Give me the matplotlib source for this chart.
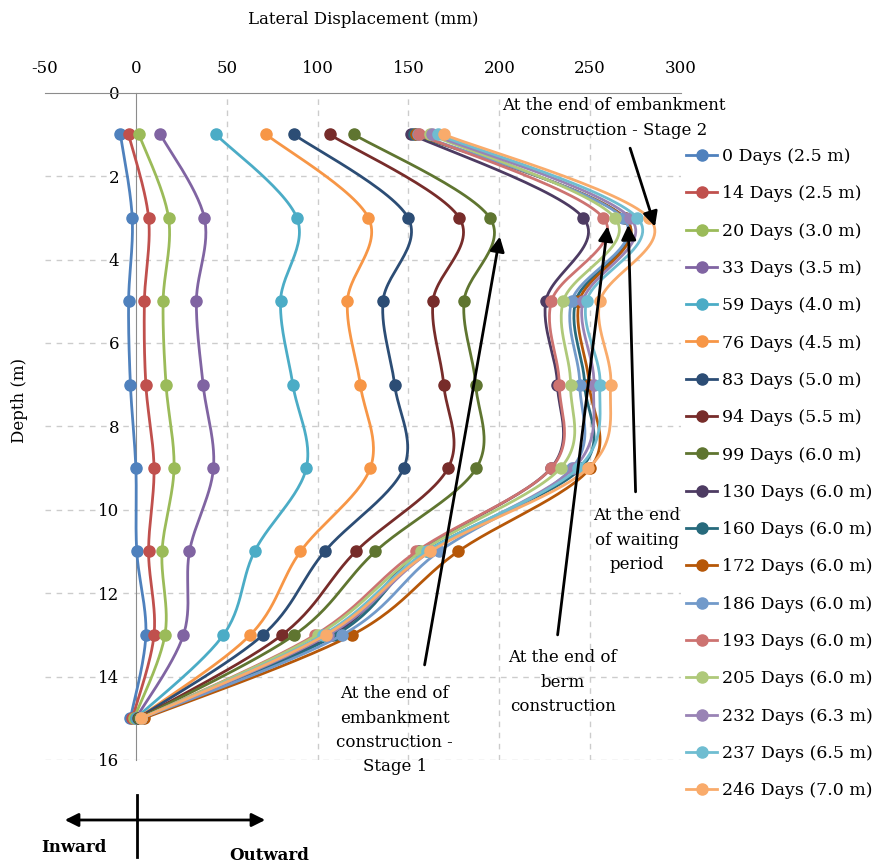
import numpy as np
import matplotlib
matplotlib.use("Agg")
import matplotlib.pyplot as plt
from matplotlib.lines import Line2D

plt.rcParams['font.family'] = ['DejaVu Serif']

depths = [1, 3, 5, 7, 9, 11, 13, 15]

labels = ["0 Days (2.5 m)", "14 Days (2.5 m)", "20 Days (3.0 m)", "33 Days (3.5 m)",
          "59 Days (4.0 m)", "76 Days (4.5 m)", "83 Days (5.0 m)", "94 Days (5.5 m)",
          "99 Days (6.0 m)", "130 Days (6.0 m)", "160 Days (6.0 m)", "172 Days (6.0 m)",
          "186 Days (6.0 m)", "193 Days (6.0 m)", "205 Days (6.0 m)", "232 Days (6.3 m)",
          "237 Days (6.5 m)", "246 Days (7.0 m)"]

d000 = [-8.5, -2.0, -4.0, -3.0, 0.0, 0.5, 5.5, -3.0]
d014 = [-4.0, 7.0, 4.7, 5.5, 10.0, 7.0, 10.0, -2.0]
d020 = [1.7, 18.0, 15.0, 16.6, 21.0, 14.4, 16.0, -1.0]
d033 = [13.5, 37.7, 33.3, 37.0, 42.7, 29.5, 26.2, 0.0]
d059 = [44.0, 88.6, 79.6, 86.4, 93.8, 65.3, 48.2, 0.0]
d076 = [71.7, 128.0, 116.4, 123.5, 129.0, 90.6, 63.0, 1.0]
d083 = [87.0, 149.8, 136.0, 142.4, 147.4, 103.9, 70.0, 1.0]
d094 = [106.6, 178.0, 163.5, 169.4, 171.8, 121.0, 80.5, 2.0]
d099 = [120.0, 194.8, 180.6, 187.0, 187.4, 131.8, 87.3, 2.0]
d130 = [151.6, 246.2, 225.6, 232.0, 228.5, 156.0, 108.0, 3.0]
d160 = [153.0, 269.0, 242.0, 247.0, 245.0, 160.0, 110.0, 3.0]
d172 = [154.0, 269.0, 244.0, 249.5, 250.0, 177.3, 119.0, 4.5]
d186 = [155.0, 268.0, 239.8, 244.3, 240.0, 166.8, 113.6, 3.0]
d193 = [155.8, 257.2, 228.7, 233.0, 228.7, 154.4, 98.7, 3.0]
d205 = [161.7, 263.6, 235.2, 239.2, 233.7, 157.1, 100.0, 3.0]
d232 = [163.0, 272.0, 246.0, 252.0, 241.0, 162.0, 106.0, 3.0]
d237 = [166.0, 276.0, 248.0, 255.4, 243.4, 160.0, 103.0, 3.0]
d246 = [169.4, 282.4, 255.4, 261.3, 249.0, 162.1, 104.4, 3.0]

series = [d000, d014, d020, d033, d059, d076, d083, d094, d099,
          d130, d160, d172, d186, d193, d205, d232, d237, d246]

colors = ["#4F81BD", "#C0504D", "#9BBB59", "#8064A2", "#4BACC6", "#F79646",
          "#2C4D75", "#772C2A", "#5F7530", "#4D3B62", "#276A7C", "#B65708",
          "#729ACA", "#CD7371", "#AFC97A", "#9983B5", "#6FBDD1", "#F9AB6B"]

x_ticks = [-50, 0, 50, 100, 150, 200, 250, 300]
y_ticks = [0, 2, 4, 6, 8, 10, 12, 14, 16]


def catmull(xs, ys, n=30):
    P = np.column_stack([xs, ys]).astype(float)
    P = np.vstack([P[0], P, P[-1]])
    out = []
    t = np.linspace(0, 1, n)[:, None]
    for i in range(1, len(P) - 2):
        p0, p1, p2, p3 = P[i - 1], P[i], P[i + 1], P[i + 2]
        seg = 0.5 * (2 * p1 + (-p0 + p2) * t + (2 * p0 - 5 * p1 + 4 * p2 - p3) * t ** 2
                     + (-p0 + 3 * p1 - 3 * p2 + p3) * t ** 3)
        out.append(seg if i == 1 else seg[1:])
    out = np.vstack(out)
    return out[:, 0], out[:, 1]


W, H = 885, 865
fig = plt.figure(figsize=(W / 100, H / 100), dpi=100)
ax = fig.add_axes([45 / W, 1 - 760 / H, (681 - 45) / W, (760 - 92.7) / H])

ax.set_xlim(-50, 300)
ax.set_ylim(16, 0)

for x in [50, 100, 150, 200, 250]:
    ax.axvline(x, color="#cccccc", lw=1, ls=(0, (4, 4)), zorder=0)
for y in [2, 4, 6, 8, 10, 12, 14, 16]:
    ax.axhline(y, color="#cccccc", lw=1, ls=(0, (4, 4)), zorder=0)

for i, (vals, c) in enumerate(zip(series, colors)):
    sx, sy = catmull(vals, depths)
    ax.plot(sx, sy, color=c, lw=2, zorder=2 + i * 0.01, solid_capstyle='round')
    ax.plot(vals, depths, 'o', color=c, ms=8, zorder=2 + i * 0.01)

ax.spines['right'].set_visible(False)
ax.spines['bottom'].set_visible(False)
ax.spines['left'].set_position(('data', 0))
ax.spines['left'].set_color("#8c8c8c")
ax.spines['top'].set_color("#8c8c8c")
ax.spines['left'].set_zorder(1)

ax.xaxis.tick_top()
ax.set_xticks(x_ticks)
ax.set_xticklabels([str(v) for v in x_ticks])
ax.set_yticks(y_ticks)
ax.set_yticklabels([str(v) for v in y_ticks])
ax.tick_params(axis='x', length=0, pad=11, labelsize=12)
ax.tick_params(axis='y', length=0, pad=12, labelsize=12)
for t in ax.get_yticklabels():
    t.set_bbox(dict(facecolor='white', edgecolor='none', pad=1))

fig.text(363 / W, 1 - 20 / H, "Lateral Displacement (mm)", ha='center', va='center', fontsize=12)
fig.text(20 / W, 1 - 400 / H, "Depth (m)", ha='center', va='center', rotation=90, fontsize=12)

# annotations
akw = dict(arrowstyle='-|>', lw=2, color='black', mutation_scale=22, shrinkA=0, shrinkB=0)
ax.annotate("", xy=(285.7, 3.21), xytext=(272.0, 1.33), arrowprops=akw, zorder=10)
ax.annotate("", xy=(200.3, 3.45), xytext=(158.9, 13.72), arrowprops=akw, zorder=10)
ax.annotate("", xy=(259.6, 3.2), xytext=(232.1, 13.0), arrowprops=akw, zorder=10)
ax.annotate("", xy=(271.0, 3.17), xytext=(275.0, 9.57), arrowprops=akw, zorder=10)

tkw = dict(ha='center', va='center', fontsize=12, linespacing=1.55, zorder=11)
ax.text((614 - 136.5) / 1.815, (118 - 92.7) / 41.7,
        "At the end of embankment\nconstruction - Stage 2", **tkw)
ax.text((395 - 136.5) / 1.815, (730 - 92.7) / 41.7,
        "At the end of\nembankment\nconstruction -\nStage 1", **tkw)
ax.text((563 - 136.5) / 1.815, (682 - 92.7) / 41.7,
        "At the end of\nberm\nconstruction", **tkw)
ax.text((637 - 136.5) / 1.815, (540 - 92.7) / 41.7,
        "At the end\nof waiting\nperiod", **tkw)

# legend
handles = [Line2D([0], [0], color=c, lw=2, marker='o', ms=8) for c in colors]
fig.legend(handles, labels, loc='upper left', bbox_to_anchor=(686 / W, 1 - 148 / H),
           frameon=False, fontsize=12.5, labelspacing=1.17, handlelength=1.8,
           handletextpad=0.3, borderaxespad=0, borderpad=0, numpoints=1)

# Inward / Outward cross
fig.add_artist(matplotlib.patches.FancyArrowPatch((62 / W, 1 - 820 / H), (268 / W, 1 - 820 / H),
               transform=fig.transFigure, arrowstyle='<|-|>', mutation_scale=20, lw=2, color='black'))
fig.add_artist(Line2D([137 / W, 137 / W], [1 - 795 / H, 1 - 857 / H],
               transform=fig.transFigure, lw=2, color='black'))
fig.text(74 / W, 1 - 848 / H, "Inward", ha='center', va='center', fontsize=12, fontweight='bold')
fig.text(269 / W, 1 - 855 / H, "Outward", ha='center', va='center', fontsize=12, fontweight='bold')

fig.savefig("out.png", dpi=100)
